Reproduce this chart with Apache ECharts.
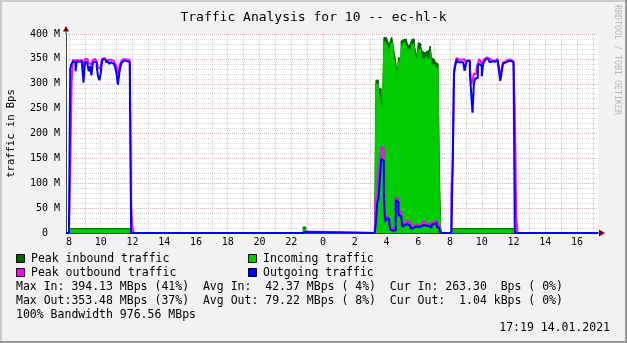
<!DOCTYPE html>
<html>
<head>
<meta charset="utf-8">
<script src="https://cdn.jsdelivr.net/npm/echarts@6/dist/echarts.min.js"></script>
<style>
html,body{margin:0;padding:0;background:#f2f2f2;}
#c{width:627px;height:343px;}
</style>
</head>
<body>
<div id="c"></div>
<script>
// ---- time range (hours since 00:00 of 13.01.2021) ----
const X_MIN = 7 + 49/60;      // 07:49
const X_MAX = 41 + 19/60;     // 17:19 next day
const STEP = 5/60;            // 5-minute samples

// ---- tick values ----
const hourTicks = [8,9,10,11,12,13,14,15,16,17,18,19,20,21,22,23,24,25,26,27,28,29,30,31,32,33,34,35,36,37,38,39,40,41];
const labelHours = [8,10,12,14,16,18,20,22,24,26,28,30,32,34,36,38,40];

// ---- segment 1: 13.01 08:00 ----
const seg1Start = 8.0;
const seg1Out = [0,330,340,345,343,325,345,344,345,345,335,302,340,345,340,325,335,317,340,345,343,335,315,307,320,345,350,348,343,345,340,343,345,340,337,333,320,298,320,335,343,347,345,345,347,343,340,0,0,0];
const seg1PeakOut = [0,120,300,348,347,340,348,347,348,348,345,320,350,350,346,340,342,335,348,350,347,345,332,330,335,350,352,351,347,348,346,348,349,346,343,340,335,320,332,342,347,350,349,348,350,348,345,58,12,0];
const seg1In = [0,7,7,7,7,7,7,7,7,7,7,7,7,7,7,7,7,7,7,7,7,7,7,7,7,7,7,7,7,7,7,7,7,7,7,7,7,7,7,7,7,7,7,7,7,7,7,7,0,0];
const seg1PeakIn = [0,9,9,9,9,9,9,9,9,9,9,9,9,9,9,9,9,9,9,9,9,9,9,9,9,9,9,9,9,9,9,9,9,9,9,9,9,9,9,9,9,9,9,9,9,9,9,9,0,0];

// ---- segment 2: 13.01 22:45 ----
const seg2Start = 22.75;
const seg2Out = [2,2,0];
const seg2PeakOut = [3,3,0];
const seg2In = [8,8,0];
const seg2PeakIn = [12,12,0];

// ---- segment 3: 14.01 03:15 ----
const seg3Start = 27.25;
const seg3PeakIn = [0,307,307,290,290,273,256,393,393,389,385,375,389,394,375,360,345,313,353,350,386,389,389,390,386,376,380,376,389,390,376,366,353,383,380,372,365,363,356,365,366,363,376,353,349,352,343,340,330,120,8,0];
const seg3In = [0,300,298,282,275,255,248,380,385,380,375,360,380,383,362,345,330,305,345,340,370,380,383,380,375,365,370,360,380,378,360,355,345,370,368,360,350,350,345,355,350,350,365,340,335,340,333,330,320,60,5,0];
const seg3Out = [0,20,60,70,110,149,145,69,22,29,28,20,6,5,4,5,66,62,36,34,34,12,16,15,18,17,15,10,9,12,13,13,12,13,13,12,16,17,15,16,14,12,10,16,18,20,21,13,10,5,0,0];
const seg3PeakOut = [0,69,75,129,140,172,172,95,31,33,33,25,10,8,8,10,70,70,45,42,40,18,20,20,24,23,22,14,12,15,16,15,15,16,15,15,20,24,20,18,18,18,15,20,22,25,24,16,15,8,0,0];

// ---- segment 4: 14.01 08:05 ----
const seg4Start = 32 + 5/60;
const seg4Out = [0,133,320,337,349,343,343,345,343,346,326,340,347,345,319,280,242,299,310,312,335,340,336,315,340,345,350,349,347,343,345,345,344,346,347,343,325,306,323,340,343,343,345,345,346,347,343,336,0,0,0];
const seg4PeakOut = [75,140,330,340,352,348,345,348,347,350,345,346,350,348,335,300,305,320,320,330,340,350,345,340,345,350,353,353,350,346,347,347,346,348,350,346,330,320,330,343,345,345,348,347,348,350,345,340,240,35,0];
const seg4In = [0,7,7,7,7,7,7,7,7,7,7,7,7,7,7,7,7,7,7,7,7,7,7,7,7,7,7,7,7,7,7,7,7,7,7,7,7,7,7,7,7,7,7,7,7,7,7,7,7,0,0];
const seg4PeakIn = [0,9,9,9,9,9,9,9,9,9,9,9,9,9,9,9,9,9,9,9,9,9,9,9,9,9,9,9,9,9,9,9,9,9,9,9,9,9,9,9,9,9,9,9,9,9,9,9,9,0,0];

// ---- texts ----
const titleText = 'Traffic Analysis for 10 -- ec-hl-k';
const unitText = 'traffic in Bps';
const legendNames = ['Peak inbound traffic','Incoming traffic','Peak outbound traffic','Outgoing traffic'];
const legendColors = ['#006600','#00cc00','#ff00ff','#0000ff'];
const statLines = [
  'Max In: 394.13 MBps (41%)  Avg In:  42.37 MBps ( 4%)  Cur In: 263.30  Bps ( 0%)',
  'Max Out:353.48 MBps (37%)  Avg Out: 79.22 MBps ( 8%)  Cur Out:  1.04 kBps ( 0%)',
  '100% Bandwidth 976.56 MBps'
];
const stampText = '17:19 14.01.2021';
const watermark = 'RRDTOOL / TOBI OETIKER';

const FONT = "'DejaVu Sans Mono', monospace";

function seg(start, vals){ return vals.map((v,k)=>[start + k*STEP, v]); }
function build(parts){
  let out = [[X_MIN,0]];
  parts.forEach(p => { out = out.concat(seg(p[0], p[1])); });
  out.push([X_MAX,0]);
  return out;
}
const peakInData = build([[seg1Start,seg1PeakIn],[seg2Start,seg2PeakIn],[seg3Start,seg3PeakIn],[seg4Start,seg4PeakIn]]);
const inData = build([[seg1Start,seg1In],[seg2Start,seg2In],[seg3Start,seg3In],[seg4Start,seg4In]]);
const peakOutData = build([[seg1Start,seg1PeakOut],[seg2Start,seg2PeakOut],[seg3Start,seg3PeakOut],[seg4Start,seg4PeakOut]]);
const outData = build([[seg1Start,seg1Out],[seg2Start,seg2Out],[seg3Start,seg3Out],[seg4Start,seg4Out]]);

// each sample holds its value until the next sample
const STEP_MODE = 'end';

const chart = echarts.init(document.getElementById('c'), null, {renderer:'canvas'});

const option = {
  animation: false,
  backgroundColor: '#f2f2f2',
  title: {
    text: titleText, left: 'center', top: 6,
    textStyle: {fontFamily: FONT, fontSize: 13, fontWeight: 'normal', color: '#000'}
  },
  grid: {left: 66, right: 29, top: 34, bottom: 110, show: true, backgroundColor: '#ffffff', borderWidth: 0},
  xAxis: {
    type: 'value', min: X_MIN, max: X_MAX,
    axisLine: {show: true, lineStyle: {color: '#2c4d43', width: 1}},
    axisTick: {show: false},
    splitLine: {show: false},
    axisLabel: {
      customValues: labelHours,
      formatter: v => String(Math.round(v) % 24),
      fontFamily: FONT, fontSize: 10, color: '#000', margin: 4
    }
  },
  yAxis: {
    type: 'value', min: 0, max: 400, interval: 50,
    axisLine: {show: true, lineStyle: {color: '#2c4d43', width: 1}},
    axisTick: {show: false},
    axisLabel: {
      formatter: v => v === 0 ? '0  ' : v + ' M',
      fontFamily: FONT, fontSize: 10, color: '#000', margin: 6
    },
    splitLine: {show: true, lineStyle: {color: '#eab0b0', type: 'dotted', width: 1}},
    minorTick: {show: false, splitNumber: 5},
    minorSplitLine: {show: true, lineStyle: {color: '#d8d8d8', type: 'dotted', width: 1}}
  },
  series: [
    {
      name: 'grid', type: 'line', data: [], z: 1, silent: true,
      markLine: {
        silent: true, z: 1, symbol: ['none','none'], label: {show: false},
        lineStyle: {color: '#cccccc', type: 'dotted', width: 1},
        emphasis: {disabled: true},
        data: hourTicks.map(h => h % 24 === 0
          ? {xAxis: h, lineStyle: {color: '#e6a0a0', type: 'dotted', width: 1}}
          : {xAxis: h})
      }
    },
    {
      name: legendNames[0], type: 'line', step: STEP_MODE, symbol: 'none', data: peakInData, z: 2,
      lineStyle: {color: legendColors[0], width: 1},
      itemStyle: {color: legendColors[0]},
      areaStyle: {color: legendColors[0], opacity: 1}
    },
    {
      name: legendNames[1], type: 'line', step: STEP_MODE, symbol: 'none', data: inData, z: 3,
      lineStyle: {color: legendColors[1], width: 1},
      itemStyle: {color: legendColors[1]},
      areaStyle: {color: legendColors[1], opacity: 1}
    },
    {
      name: legendNames[2], type: 'line', step: STEP_MODE, symbol: 'none', data: peakOutData, clip: false, z: 4,
      lineStyle: {color: legendColors[2], width: 2},
      itemStyle: {color: legendColors[2]}
    },
    {
      name: legendNames[3], type: 'line', step: STEP_MODE, symbol: 'none', data: outData, clip: false, z: 5,
      lineStyle: {color: legendColors[3], width: 2},
      itemStyle: {color: legendColors[3]}
    }
  ]
};
chart.setOption(option);

// ---- decorations positioned from the axes ----
const pO = chart.convertToPixel({gridIndex: 0}, [X_MIN, 0]);
const pT = chart.convertToPixel({gridIndex: 0}, [X_MIN, 400]);
const pR = chart.convertToPixel({gridIndex: 0}, [X_MAX, 0]);
const midY = (pO[1] + pT[1]) / 2;

const g = [];
// frame
g.push({type:'rect', shape:{x:0,y:0,width:627,height:2}, style:{fill:'#cbcbcb'}, silent:true});
g.push({type:'rect', shape:{x:0,y:0,width:2,height:343}, style:{fill:'#cbcbcb'}, silent:true});
g.push({type:'rect', shape:{x:0,y:341,width:627,height:2}, style:{fill:'#999999'}, silent:true});
g.push({type:'rect', shape:{x:625,y:0,width:2,height:343}, style:{fill:'#999999'}, silent:true});
// axis extensions & arrows
g.push({type:'line', shape:{x1:pT[0], y1:pT[1], x2:pT[0], y2:pT[1]-4}, style:{stroke:'#2c4d43', lineWidth:1}, silent:true, z: 10});
g.push({type:'polygon', shape:{points:[[pT[0]-3, pT[1]-2.5],[pT[0]+3, pT[1]-2.5],[pT[0], pT[1]-8]]}, style:{fill:'#7f0000'}, silent:true, z: 10});
g.push({type:'line', shape:{x1:pR[0], y1:pR[1], x2:pR[0]+2, y2:pR[1]}, style:{stroke:'#2c4d43', lineWidth:1}, silent:true, z: 10});
g.push({type:'polygon', shape:{points:[[pR[0]+1, pR[1]-3.5],[pR[0]+1, pR[1]+3.5],[pR[0]+7, pR[1]]]}, style:{fill:'#7f0000'}, silent:true, z: 10});
// unit label
g.push({type:'text', x: 11, y: midY, rotation: Math.PI/2,
  style:{text: unitText, fontFamily: FONT, fontSize: 10.5, fill:'#000', align:'center', verticalAlign:'middle'}});
// watermark
g.push({type:'text', x: 617, y: 5, rotation: -Math.PI/2,
  style:{text: watermark, fontFamily: FONT, fontSize: 8.3, fill:'#b8b8b8', align:'left', verticalAlign:'middle'}});
// legend
const legPos = [[16,259],[248,259],[16,273],[248,273]];
legendNames.forEach((n,i) => {
  const p = legPos[i];
  g.push({type:'rect', shape:{x:p[0]+0.5, y:p[1]-4.5, width:8, height:8}, style:{fill:legendColors[i], stroke:'#000', lineWidth:1}, silent:true});
  g.push({type:'text', x:p[0]+15, y:p[1], style:{text:n, fontFamily:FONT, fontSize:11.5, fill:'#000', align:'left', verticalAlign:'middle'}});
});
// stats
statLines.forEach((s,i) => {
  g.push({type:'text', x:16, y:287 + i*14, style:{text:s, fontFamily:FONT, fontSize:11.5, fill:'#000', align:'left', verticalAlign:'middle'}});
});
g.push({type:'text', x:610, y:328, style:{text:stampText, fontFamily:FONT, fontSize:11.5, fill:'#000', align:'right', verticalAlign:'middle'}});

chart.setOption({graphic: {elements: g}});
</script>
</body>
</html>
